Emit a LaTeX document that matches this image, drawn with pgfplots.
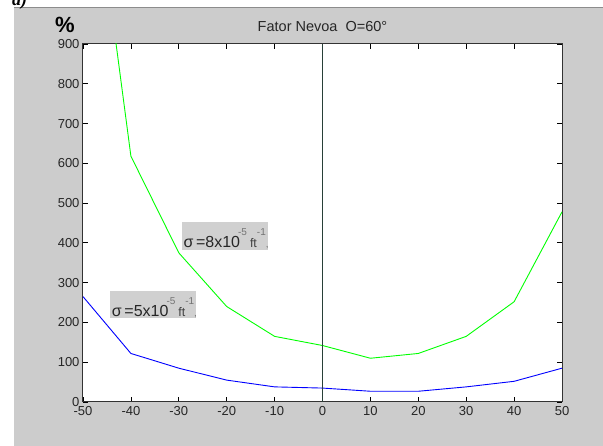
\documentclass[border=0pt]{standalone}
\usepackage{pgfplots}
\pgfplotsset{compat=1.18}
\usepackage{fontspec}
\setmainfont{Liberation Sans}
\newfontfamily\seriffont{Liberation Serif}
\definecolor{figgray}{RGB}{204,204,204}
\definecolor{boxgray}{RGB}{208,208,208}
\definecolor{zeroline}{RGB}{40,64,56}
\definecolor{mgreen}{RGB}{0,255,0}
\definecolor{mblue}{RGB}{0,0,255}
\newcommand{\sig}[1]{{\fontsize{16}{18}\selectfont\color{black!85}σ\,=#1x10}\hspace{-2pt}\raisebox{12pt}{\fontsize{10}{10}\selectfont\color{black!55}-5}\hspace{3pt}{\fontsize{12.5}{12}\selectfont\color{black!75}ft}\raisebox{12pt}{\fontsize{10}{10}\selectfont\color{black!55}-1}{\fontsize{10}{10}\selectfont\color{black!55},}}
\begin{document}
\begin{tikzpicture}[x=1pt,y=1pt]
\path[use as bounding box] (0pt,0pt) rectangle (603pt,446pt);
\fill[white] (0pt,0pt) rectangle (603pt,446pt);
\fill[figgray] (14pt,0pt) rectangle (603pt,438pt);
\draw[black!45, line width=1pt] (14pt,438pt) -- (603pt,438pt);
\node[anchor=base west, font=\seriffont\fontsize{18}{20}\selectfont\bfseries\itshape, inner sep=0] at (12pt,440pt) {a)};
\node[font=\fontsize{22}{24}\selectfont\bfseries, anchor=base, inner sep=0] at (65pt,413pt) {\%};
\node[font=\fontsize{14.5}{16}\selectfont, anchor=base, inner sep=0, text=black!85] at (322.5pt,414pt) {Fator Nevoa\ \ O=60°};
\begin{axis}[at={(83pt,44pt)}, anchor=south west,
  width=479pt, height=358pt, scale only axis,
  xmin=-50, xmax=50, ymin=0, ymax=900,
  xtick={-50,-40,...,50}, ytick={0,100,...,900},
  tick align=inside, major tick length=5pt,
  axis line style={black!80, line width=1pt},
  tick style={black, line width=0.8pt},
  ticklabel style={font=\fontsize{13}{15}\selectfont, text=black!85},
  xticklabel style={yshift=-1pt},
  yticklabel style={xshift=0pt},
  /pgf/number format/assume math mode=true,
  axis background/.style={fill=white},
  clip=true]
\addplot[mgreen, line width=0.9pt] coordinates {
(-50,1530) (-40,618) (-30,375) (-20,240) (-10,165) (0,142) (10,110) (20,122) (30,165) (40,252) (50,478)};
\addplot[mblue, line width=0.9pt] coordinates {
(-50,265) (-40,122) (-30,85) (-20,55) (-10,38) (0,35) (10,27) (20,27) (30,38) (40,52) (50,85)};
\addplot[zeroline, line width=0.9pt] coordinates {(0,0) (0,900)};
\fill[boxgray] (axis cs:-29.33,452.5) rectangle (axis cs:-11.38,382.1);
\node[anchor=base west, inner sep=0] at (axis cs:-29.05,387.9) {\sig{8}};
\fill[boxgray] (axis cs:-44.36,279.8) rectangle (axis cs:-26.4,211.2);
\node[anchor=base west, inner sep=0] at (axis cs:-44.0,214.4) {\sig{5}};
\end{axis}
\end{tikzpicture}
\end{document}
